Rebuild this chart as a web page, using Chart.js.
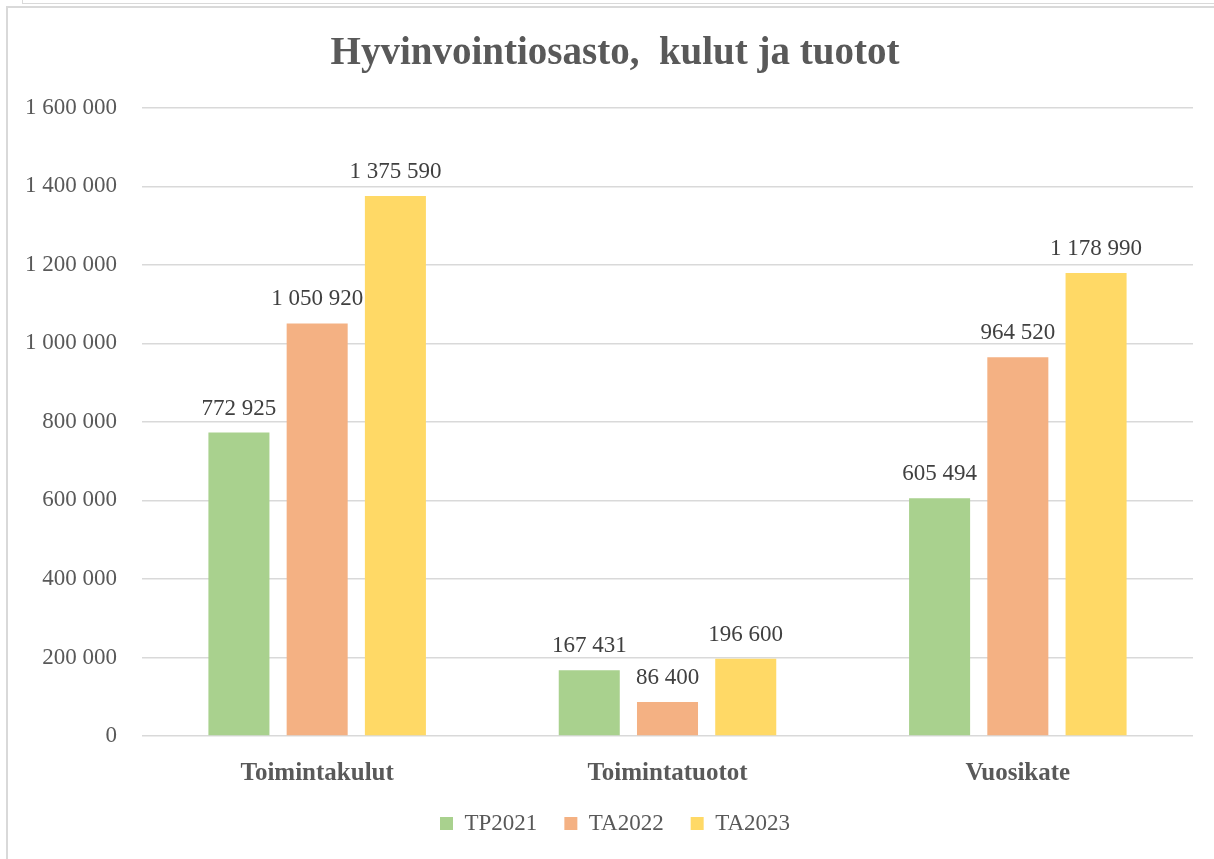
<!DOCTYPE html>
<html>
<head>
<meta charset="utf-8">
<script src="https://cdn.jsdelivr.net/npm/chart.js@4/dist/chart.umd.min.js"></script>
<style>
  html, body { margin: 0; padding: 0; background: #fff; }
  body { width: 1214px; height: 859px; position: relative; overflow: hidden; }
  #topEdge { position: absolute; left: 22px; top: 0; width: 1300px; height: 3px; border-left: 1.5px solid #d9d9d9; border-bottom: 1.5px solid #d9d9d9; }
  #frame { position: absolute; left: 6px; top: 6px; width: 1300px; height: 900px; border: 2px solid #d9d9d9; }
  #wrap { position: absolute; left: 0; top: 0; width: 1214px; height: 859px; }
</style>
</head>
<body>
<div id="topEdge"></div>
<div id="frame"></div>
<div id="wrap"><canvas id="myChart"></canvas></div>
<script>
// Chart data
const categories = ['Toimintakulut', 'Toimintatuotot', 'Vuosikate'];
const seriesNames = ['TP2021', 'TA2022', 'TA2023'];
const tp2021 = [772925, 167431, 605494];
const ta2022 = [1050920, 86400, 964520];
const ta2023 = [1375590, 196600, 1178990];
const yTicks = [0, 200000, 400000, 600000, 800000, 1000000, 1200000, 1400000, 1600000];

const colors = ['#a9d18e', '#f4b183', '#ffd966'];
const textColor = '#595959';
const fontFamily = "'Liberation Serif', 'DejaVu Serif', serif";

// Format numbers with space as thousands separator
function fmt(v) {
  return String(v).replace(/\B(?=(\d{3})+(?!\d))/g, ' ');
}

// Plugin to draw value labels above the bars
const valueLabels = {
  id: 'valueLabels',
  afterDatasetsDraw(chart) {
    const ctx = chart.ctx;
    ctx.save();
    ctx.font = '23px ' + fontFamily;
    ctx.fillStyle = '#404040';
    ctx.textAlign = 'center';
    ctx.textBaseline = 'alphabetic';
    chart.data.datasets.forEach((ds, i) => {
      const meta = chart.getDatasetMeta(i);
      meta.data.forEach((bar, j) => {
        ctx.fillText(fmt(ds.data[j]), bar.x, bar.y - 18);
      });
    });
    ctx.restore();
  }
};

function initializeChart() {
  const ctx = document.getElementById('myChart').getContext('2d');
  return new Chart(ctx, {
    type: 'bar',
    data: {
      labels: categories,
      datasets: [tp2021, ta2022, ta2023].map((d, i) => ({
        label: seriesNames[i],
        data: d,
        backgroundColor: colors[i],
        categoryPercentage: 0.67,
        barPercentage: 0.78
      }))
    },
    options: {
      responsive: true,
      maintainAspectRatio: false,
      animation: false,
      layout: { padding: { left: 16, right: 0, top: 0, bottom: 14 } },
      plugins: {
        title: {
          display: true,
          text: 'Hyvinvointiosasto,  kulut ja tuotot',
          color: textColor,
          font: { family: fontFamily, size: 39, weight: 'bold' },
          padding: { top: 31, bottom: 30 }
        },
        legend: {
          position: 'bottom',
          labels: {
            color: textColor,
            font: { family: fontFamily, size: 23 },
            boxWidth: 13,
            boxHeight: 13,
            padding: 27
          }
        },
        tooltip: { enabled: false }
      },
      scales: {
        x: {
          grid: { display: false },
          border: { display: false },
          afterFit: (scale) => { scale.height = 49; },
          ticks: {
            color: textColor,
            font: { family: fontFamily, size: 25, weight: 'bold' },
            padding: 15
          }
        },
        y: {
          min: 0,
          max: 1600000,
          afterBuildTicks: (scale) => { scale.ticks = yTicks.map(v => ({ value: v })); },
          afterFit: (scale) => { scale.width = 126; },
          grid: { color: '#d9d9d9', lineWidth: 1.5, drawTicks: false },
          border: { display: false },
          ticks: {
            color: textColor,
            font: { family: fontFamily, size: 23 },
            padding: 25,
            callback: (v) => fmt(v)
          }
        },
        // empty right axis, only keeps space so the title and legend stay centred like the original
        yRight: {
          position: 'right',
          grid: { display: false },
          border: { display: false },
          ticks: { display: false },
          afterFit: (scale) => { scale.width = 21; }
        }
      }
    },
    plugins: [valueLabels]
  });
}

const myChart = initializeChart();
</script>
</body>
</html>
